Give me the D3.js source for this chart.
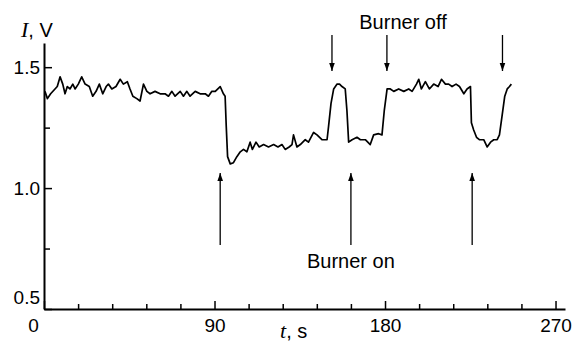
<!DOCTYPE html>
<html>
<head>
<meta charset="utf-8">
<script src="https://cdn.jsdelivr.net/npm/d3@7"></script>
<style>
  body { margin: 0; background: #fff; }
  svg { display: block; font-family: "Liberation Sans", Arial, sans-serif; }
</style>
</head>
<body>
<div id="chart"></div>
<script>
// signal trace: time (s) and current (V)
const times = [0.5, 1.8, 3.5, 5.8, 7, 8.5, 9.9, 11.1, 12.3, 13.7, 15.2, 16.4, 18.1, 19.9, 21.7, 23.9,
  25.7, 27.5, 29.2, 31, 32.8, 34, 35.8, 38, 40.2, 41.9, 44, 45.4, 46.9, 49, 50.7, 52.5, 54.3, 56,
  58.6, 61.3, 63.9, 65.7, 67.5, 69.2, 71.9, 73.6, 75.4, 77.1, 79.8, 82.4, 85.1, 86.8, 88.6, 90.4,
  93, 94.7, 95.6, 96.2, 96.9, 98.3, 100, 101.8, 103.6, 105.3, 107.1, 108.8, 110, 111.9, 113.6,
  115.9, 118.5, 121.2, 123.5, 125.6, 127.3, 129.4, 130.9, 131.7, 133.5, 135.3, 137.9, 139.6,
  142.3, 144.1, 146.7, 149.4, 150.2, 151.5, 152.9, 154.7, 156, 157.3, 159, 159.9, 160.8, 162.6,
  165.2, 167, 169.6, 172.2, 174, 176.6, 178.4, 179.6, 181.1, 182.8, 184.6, 187.2, 189.9, 192.5,
  194.3, 196.6, 197.8, 199.2, 201.3, 203.4, 205.7, 208, 209.8, 211.9, 213.6, 215.4, 217.5, 219.3,
  221.6, 223.3, 225.1, 225.6, 226.8, 228.3, 229.8, 232.1, 233.9, 235.7, 237.4, 239.2, 240.4,
  241.8, 243.2, 244.5, 245.7, 246.7]
const volts = [1.40, 1.37, 1.39, 1.41, 1.42, 1.46, 1.43, 1.39, 1.42, 1.41, 1.43, 1.41, 1.43, 1.46, 1.43, 1.42,
  1.38, 1.40, 1.43, 1.39, 1.42, 1.43, 1.41, 1.42, 1.45, 1.43, 1.44, 1.41, 1.38, 1.37, 1.36, 1.43, 1.40, 1.39,
  1.40, 1.39, 1.39, 1.38, 1.40, 1.38, 1.40, 1.38, 1.40, 1.38, 1.40, 1.39, 1.39, 1.38, 1.40, 1.40,
  1.42, 1.39, 1.38, 1.255, 1.13, 1.10, 1.105, 1.13, 1.15, 1.16, 1.15, 1.19, 1.16, 1.19, 1.17,
  1.18, 1.17, 1.18, 1.17, 1.18, 1.16, 1.17, 1.18, 1.22, 1.17, 1.18, 1.20, 1.19,
  1.23, 1.22, 1.20, 1.20, 1.255, 1.35, 1.41, 1.43, 1.43, 1.42, 1.41, 1.32, 1.19, 1.20,
  1.21, 1.20, 1.20, 1.18, 1.22, 1.225, 1.22, 1.32, 1.41, 1.41, 1.40, 1.41, 1.40, 1.41,
  1.40, 1.43, 1.45, 1.41, 1.44, 1.41, 1.43, 1.42, 1.45, 1.43, 1.43, 1.42, 1.43, 1.42,
  1.39, 1.41, 1.42, 1.27, 1.24, 1.21, 1.20, 1.20, 1.17, 1.19, 1.20, 1.20, 1.22,
  1.30, 1.38, 1.41, 1.42, 1.43]

// events marked with arrows (s)
const burnerOn = [93, 162, 226]
const burnerOff = [152, 181, 242]

// axis ticks
const xMajor = [0, 90, 180, 270]
const xMinor = [18, 36, 54, 72, 108, 126, 144, 162, 198, 216, 234, 252]
const yMajor = [0.5, 1.0, 1.5]
const yMinor = [0.75, 1.25]

const width = 576, height = 343

const svg = d3.select("#chart")
  .append("svg")
  .attr("width", width)
  .attr("height", height)

const x = d3.scaleLinear().domain([0, 275]).range([44, 565])
const y = d3.scaleLinear().domain([0.5, 1.6]).range([309, 43])

/* ARROW MARKER */
svg.append("defs").append("marker")
  .attr("id", "head")
  .attr("viewBox", "0 0 10 10")
  .attr("refX", 10).attr("refY", 5)
  .attr("markerWidth", 8).attr("markerHeight", 8)
  .attr("markerUnits", "userSpaceOnUse")
  .attr("orient", "auto")
  .append("path")
  .attr("d", "M0,1.5 L10,5 L0,8.5 Z")
  .attr("fill", "#000")

/* X AXIS */
const xAxis = svg.append("g")
  .attr("transform", `translate(0, ${y(0.5)})`)
  .call(d3.axisBottom(x).tickValues(xMajor).tickSize(-8).tickSizeOuter(0).tickPadding(10))
xAxis.select(".domain").attr("stroke-width", 2)
xAxis.selectAll(".tick line").attr("stroke-width", 1.5)
xAxis.selectAll(".tick text")
  .style("font-size", "19px")
  .attr("fill", "#000")
  .attr("dx", d => d === 0 ? -11 : 0)

svg.append("g")
  .attr("transform", `translate(0, ${y(0.5)})`)
  .call(d3.axisBottom(x).tickValues(xMinor).tickSize(-5).tickFormat(""))
  .call(g => g.select(".domain").remove())
  .selectAll(".tick line").attr("stroke-width", 1.5)

/* Y AXIS */
const yAxis = svg.append("g")
  .attr("transform", `translate(${x(0)}, 0)`)
  .call(d3.axisLeft(y).tickValues(yMajor).tickSize(-8).tickSizeOuter(0).tickPadding(4)
    .tickFormat(d3.format(".1f")))
yAxis.select(".domain").attr("stroke-width", 2)
yAxis.selectAll(".tick line").attr("stroke-width", 1.5)
yAxis.selectAll(".tick text")
  .style("font-size", "19px")
  .attr("fill", "#000")
  .attr("dy", d => d === 0.5 ? "-0.0em" : "0.32em")
  .attr("y", d => d === 0.5 ? -6 : 0)

svg.append("g")
  .attr("transform", `translate(${x(0)}, 0)`)
  .call(d3.axisLeft(y).tickValues(yMinor).tickSize(-6).tickFormat(""))
  .call(g => g.select(".domain").remove())
  .selectAll(".tick line").attr("stroke-width", 1.5)

/* AXIS TITLES */
const yTitle = svg.append("text")
  .attr("x", 21).attr("y", 37)
  .style("font-size", "20px")
yTitle.append("tspan").text("I")
  .style("font-family", "'Liberation Serif', 'Times New Roman', serif")
  .style("font-style", "italic")
  .style("font-size", "22px")
yTitle.append("tspan").text(", V")

const xTitle = svg.append("text")
  .attr("x", 280).attr("y", 338)
  .style("font-size", "20px")
xTitle.append("tspan").text("t")
  .style("font-family", "'Liberation Serif', 'Times New Roman', serif")
  .style("font-style", "italic")
  .style("font-size", "22px")
xTitle.append("tspan").text(", s")

/* TRACE */
const data = times.map((t, i) => ({ t, v: volts[i] }))
svg.append("path")
  .datum(data)
  .attr("fill", "none")
  .attr("stroke", "#000")
  .attr("stroke-width", 1.7)
  .attr("stroke-linejoin", "round")
  .attr("d", d3.line().x(d => x(d.t)).y(d => y(d.v)))

/* ARROWS */
svg.selectAll(".arrow-on")
  .data(burnerOn)
  .enter()
  .append("line")
  .attr("class", "arrow-on")
  .attr("x1", d => x(d)).attr("x2", d => x(d))
  .attr("y1", 245).attr("y2", 173)
  .attr("stroke", "#000")
  .attr("stroke-width", 1.3)
  .attr("marker-end", "url(#head)")

svg.selectAll(".arrow-off")
  .data(burnerOff)
  .enter()
  .append("line")
  .attr("class", "arrow-off")
  .attr("x1", d => x(d)).attr("x2", d => x(d))
  .attr("y1", 35).attr("y2", 71)
  .attr("stroke", "#000")
  .attr("stroke-width", 1.3)
  .attr("marker-end", "url(#head)")

svg.append("text")
  .attr("x", x(burnerOn[1])).attr("y", 268)
  .attr("text-anchor", "middle")
  .style("font-size", "20px")
  .text("Burner on")

svg.append("text")
  .attr("x", 403).attr("y", 29)
  .attr("text-anchor", "middle")
  .style("font-size", "20px")
  .text("Burner off")
</script>
</body>
</html>
